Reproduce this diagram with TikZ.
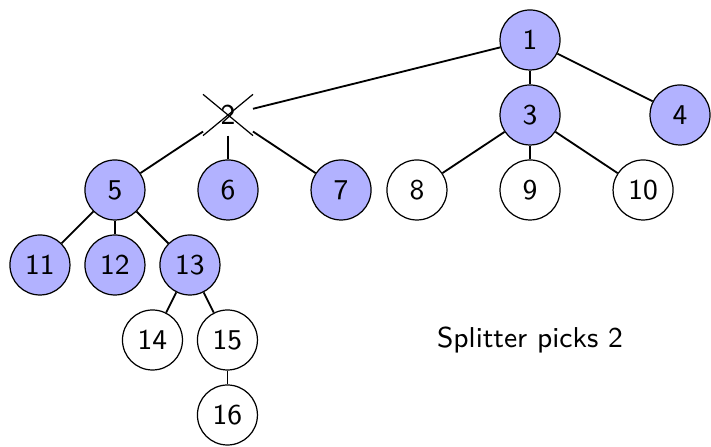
\documentclass[tikz,border=0pt]{standalone}
\usepackage{tikz}
\usetikzlibrary{positioning}
\usetikzlibrary{shapes.misc}
\renewcommand{\familydefault}{\sfdefault}

\tikzset{
  vert/.style={circle,draw,minimum size=0.69cm,inner sep=0pt},
  picked/.style={vert,fill=blue!30},
  cut/.style={cross out,draw,minimum width=0.56cm,minimum height=0.46cm,inner sep=0pt},
  treeedge/.style={semithick}
}

\begin{document}
\begin{tikzpicture}[node distance=0.8625cm,on grid,font=\fontsize{9.4}{11}\selectfont]
   \useasboundingbox (0,0) rectangle (8.1765,5.1405);
   \node[picked] (n1) at (6.095,4.6805) {1};
   \node[picked] (n3) [below=of n1] {3};
   \node[picked] (n4) [below right=0.8625cm and 1.725cm of n1] {4};
   \node[cut] (n2) [below left=0.8625cm and 3.473cm of n1] {2};
   \node[picked] (n5) [below left=0.8625cm and 1.3cm of n2] {5};
   \node[picked] (n6) [below=of n2] {6};
   \node[picked] (n7) [below right=0.8625cm and 1.3cm of n2] {7};
   \node[vert] (n8) [below left=0.8625cm and 1.3cm of n3] {8};
   \node[vert] (n9) [below=of n3] {9};
   \node[vert] (n10) [below right=0.8625cm and 1.3cm of n3] {10};
   \node[picked] (n11) [below left=0.8625cm and 0.8625cm of n5] {11};
   \node[picked] (n12) [below=of n5] {12};
   \node[picked] (n13) [below right=0.8625cm and 0.8625cm of n5] {13};
   \node[vert] (n14) [below left=0.8625cm and 0.431cm of n13] {14};
   \node[vert] (n15) [below right=0.8625cm and 0.431cm of n13] {15};
   \node[vert] (n16) [below=of n15] {16};
   \node (msg) [below=1.725cm of n9] {Splitter picks 2};
    \path[treeedge]
    (n1) edge (n2) (n1) edge (n3) (n1) edge (n4)
    (n2) edge (n5) (n2) edge (n6) (n2) edge (n7)
    (n3) edge (n8) (n3) edge (n9) (n3) edge (n10)
    (n5) edge (n11) (n5) edge (n12) (n5) edge (n13)
    (n13) edge (n14) (n13) edge (n15)
    (n15) edge (n16);
\end{tikzpicture}
\end{document}
